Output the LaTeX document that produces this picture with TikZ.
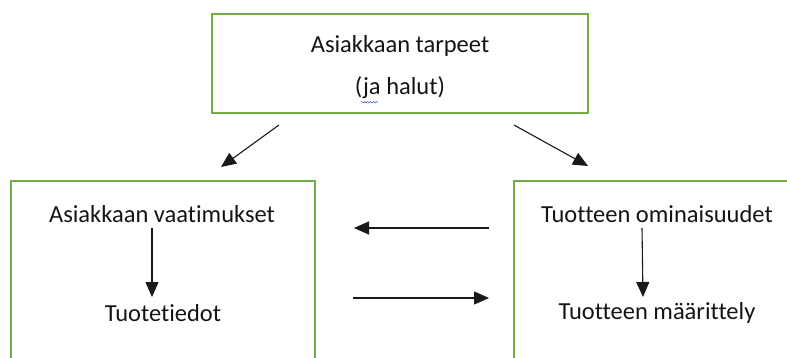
\documentclass[tikz,border=0pt]{standalone}
\usepackage{fontspec}
\setmainfont{Carlito}[RawFeature={-liga;-clig}]
\usetikzlibrary{arrows.meta,decorations.pathmorphing}
\definecolor{boxgreen}{RGB}{112,173,71}
\definecolor{spellblue}{RGB}{70,90,200}
\tikzset{
  greenbox/.style={draw=boxgreen,line width=1.6pt},
  lbl/.style={inner sep=0pt,font=\fontsize{24.5}{29}\selectfont,text=black!92},
  arr/.style={draw=black!90,line width=1.1pt,-{Triangle[length=15pt,width=13pt]}},
}
\begin{document}
\begin{tikzpicture}[x=1pt,y=-1pt]
\useasboundingbox (0,0) rectangle (787,358);
% boxes
\draw[greenbox] (212,14) rectangle (588,113);
\draw[greenbox] (11,181) rectangle (315,380);
\draw[greenbox] (514,181) rectangle (800,380);
% top texts
\node[lbl] (tarpeet) at (400,46) {Asiakkaan tarpeet};
\node[lbl] (halut) at (400,88) {(ja halut)};
\draw[spellblue,line width=0.5pt,decorate,decoration={snake,amplitude=0.8pt,segment length=3pt}]
  ([xshift=6pt,yshift=-3pt]halut.south west) -- ++(17,0);
% left box texts
\node[lbl] (vaat) at (162,214) {Asiakkaan vaatimukset};
\node[lbl] (tieto) at (163,313) {Tuotetiedot};
% right box texts
\node[lbl] (omin) at (657,214) {Tuotteen ominaisuudet};
\node[lbl] (maar) at (657,313) {Tuotteen määrittely};
% coordinates for connectors
\coordinate (d1s) at (279,125);
\coordinate (d1e) at (221,167);
\coordinate (d2s) at (514,125);
\coordinate (d2e) at (588,166);
\coordinate (h1s) at (489,228);
\coordinate (h1e) at (354,228);
\coordinate (h2s) at (353,298);
\coordinate (h2e) at (489,298);
\coordinate (v1s) at (152,228);
\coordinate (v1e) at (152,297);
\coordinate (v2s) at (642,228);
\coordinate (v2e) at (643,297);
% arrows
\draw[arr] (d1s) -- (d1e);
\draw[arr] (d2s) -- (d2e);
\draw[arr] (h1s) -- (h1e);
\draw[arr] (h2s) -- (h2e);
\draw[arr] (v1s) -- (v1e);
\draw[arr] (v2s) -- (v2e);
\end{tikzpicture}
\end{document}
